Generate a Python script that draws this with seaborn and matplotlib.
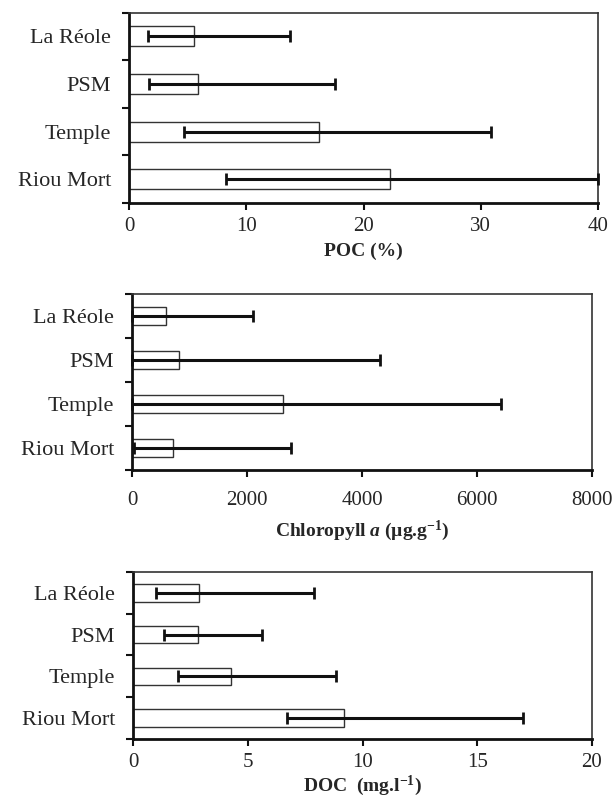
import numpy as np
import pandas as pd
import matplotlib
matplotlib.use("Agg")
import matplotlib.pyplot as plt
import seaborn as sns

# sites, top to bottom
sites = ["La Réole", "PSM", "Temple", "Riou Mort"]

# POC (%) - mean with min/max range
poc_mean = [5.5, 5.85, 16.2, 22.3]
poc_min = [1.6, 1.7, 4.7, 8.3]
poc_max = [13.7, 17.6, 30.9, 40.0]

# Chlorophyll a (ug/g)
chl_mean = [590, 820, 2630, 720]
chl_min = [0, 0, 0, 30]
chl_max = [2100, 4320, 6420, 2770]

# DOC (mg/l)
doc_mean = [2.88, 2.85, 4.25, 9.19]
doc_min = [1.01, 1.37, 1.97, 6.7]
doc_max = [7.9, 5.6, 8.85, 16.98]

sns.set_style("ticks")
plt.rcParams['font.family'] = ['Liberation Serif', 'DejaVu Serif']
plt.rcParams['mathtext.fontset'] = 'custom'
plt.rcParams['mathtext.rm'] = 'Liberation Serif:bold'
plt.rcParams['mathtext.it'] = 'Liberation Serif:italic:bold'
plt.rcParams['mathtext.bf'] = 'Liberation Serif:bold'

fig = plt.figure(figsize=(6.15, 8.01), dpi=100)

panels = [
    # values, min, max, xlim, xticks, xlabel, axes rect, tick pad, label pad
    (poc_mean, poc_min, poc_max, 40, [0, 10, 20, 30, 40], "POC (%)",
     [0.2098, 0.7466, 0.7626, 0.2376], 5, 5),
    (chl_mean, chl_min, chl_max, 8000, [0, 2000, 4000, 6000, 8000],
     r"Chloropyll $a$ (µg.g$^{\mathregular{-1}}$)",
     [0.2146, 0.4132, 0.7480, 0.2197], 10, 6),
    (doc_mean, doc_min, doc_max, 20, [0, 5, 10, 15, 20],
     r"DOC  (mg.l$^{\mathregular{-1}}$)",
     [0.2163, 0.0775, 0.7463, 0.2085], 5, 1),
]

for mean, lo, hi, xmax, xticks, xlabel, rect, tpad, lpad in panels:
    ax = fig.add_axes(rect)
    df = pd.DataFrame({"site": sites, "value": mean})
    sns.barplot(data=df, x="value", y="site", orient="h", color="white",
                saturation=1, edgecolor="#333333", linewidth=1, width=0.42,
                errorbar=None, ax=ax)

    # min-max range as error bars
    m = np.array(mean)
    xerr = [m - np.array(lo), np.array(hi) - m]
    ax.errorbar(m, np.arange(len(sites)), xerr=xerr, fmt="none",
                ecolor="#111111", elinewidth=2.2, capsize=4, capthick=2,
                zorder=5, clip_on=False)

    ax.set_xlim(0, xmax)
    ax.set_xticks(xticks)
    ax.set_ylim(len(sites) - 0.5, -0.5)

    # ticks between categories, labels centred in bands
    ax.set_yticks(np.arange(len(sites) + 1) - 0.5)
    ax.set_yticklabels([])
    ax.set_yticks(np.arange(len(sites)), minor=True)
    ax.set_yticklabels(sites, minor=True, fontsize=16)
    ax.tick_params(axis="y", which="major", length=5, width=1.5,
                   direction="out", color="#111111")
    ax.tick_params(axis="y", which="minor", length=0, pad=13)
    ax.tick_params(axis="x", length=5, width=1.5, direction="out",
                   labelsize=15, pad=tpad, color="#111111")

    ax.set_ylabel("")
    ax.set_xlabel(xlabel, fontsize=14, fontweight="bold", labelpad=lpad)

    for side in ["left", "bottom"]:
        ax.spines[side].set_linewidth(2)
        ax.spines[side].set_color("#111111")
    for side in ["top", "right"]:
        ax.spines[side].set_visible(True)
        ax.spines[side].set_linewidth(1.2)
        ax.spines[side].set_color("#333333")

fig.savefig("out.png", dpi=100)
